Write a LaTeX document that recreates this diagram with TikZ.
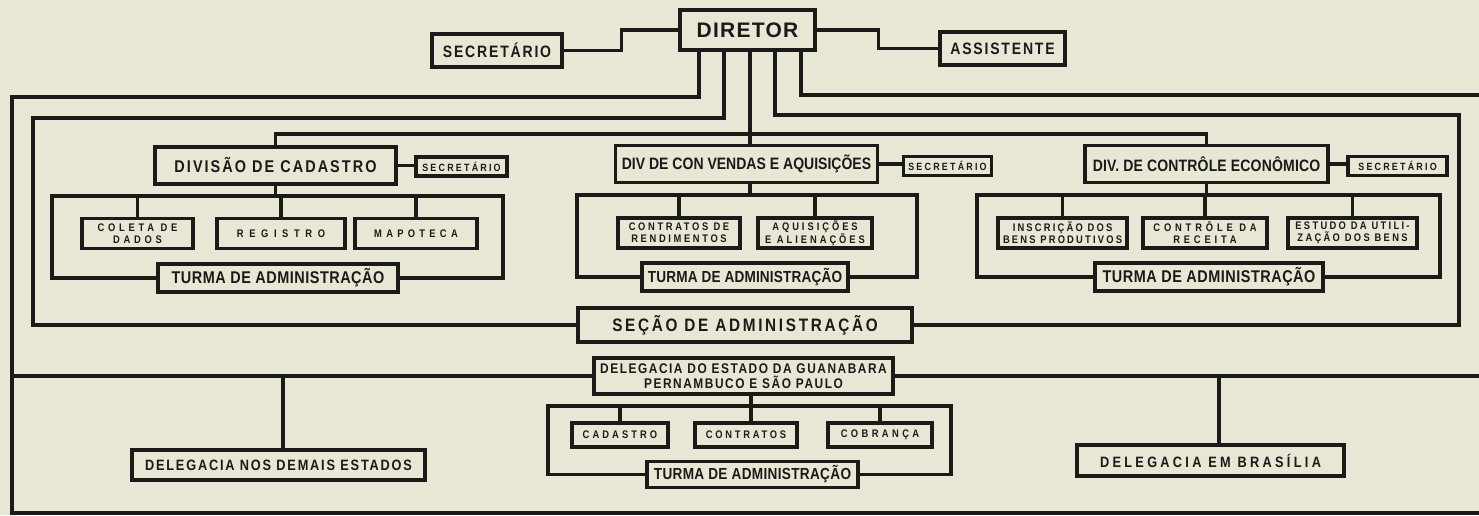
\documentclass[tikz,border=0pt]{standalone}
\usepackage{fontspec}
\setmainfont{Liberation Sans}
\newfontfamily\cf{Liberation Sans}[FakeStretch=0.85]
\definecolor{bg}{HTML}{E8E7D6}
\definecolor{ink}{HTML}{1A1A18}
\newcommand\ff[3]{\fontsize{#1}{#2}\selectfont\cf\bfseries\addfontfeature{LetterSpace=#3}}
\newcommand\fn[3]{\fontsize{#1}{#2}\selectfont\bfseries\addfontfeature{LetterSpace=#3}}
\begin{document}
\begin{tikzpicture}[x=1pt,y=-1pt,
  bx/.style={draw=ink, line width=3.2pt, fill=bg, inner sep=0pt, align=center, text=ink},
  ln/.style={draw=ink, line width=3.2pt, line join=miter},
  subbox/.style={bx, minimum height=30pt},
  turma/.style={bx, minimum height=28pt}]
\fill[bg] (0,0) rectangle (1479,515);
\useasboundingbox (0,0) rectangle (1479,515);

% top
\node[bx, minimum width=135pt, minimum height=40pt, font={\fn{21}{22}{6}}] (dir) at (747.5,30) {DIRETOR};
\node[bx, minimum width=130pt, minimum height=33pt, font={\ff{16.5}{18}{11}}] (sec) at (497,50.5) {SECRETÁRIO};
\node[bx, minimum width=125pt, minimum height=33pt, font={\ff{16.5}{18}{11}}] (ass) at (1002.5,48.5) {ASSISTENTE};

% divisions
\node[bx, minimum width=241pt, minimum height=37pt, font={\ff{17}{18}{12}}] (d1) at (275.5,165.5) {DIVISÃO DE CADASTRO};
\node[bx, minimum width=91pt, minimum height=19pt, font={\ff{10.5}{11}{21}}] (s1) at (461.5,166.5) {SECRETÁRIO};
\node[bx, minimum width=262pt, minimum height=37pt, font={\ff{16.5}{18}{0}}] (d2) at (746.5,164) {DIV DE CON VENDAS E AQUISIÇÕES};
\node[bx, minimum width=88pt, minimum height=19pt, font={\ff{10.5}{11}{21}}] (s2) at (947.5,166) {SECRETÁRIO};
\node[bx, minimum width=243pt, minimum height=37pt, font={\ff{16.5}{18}{1}}] (d3) at (1206.5,164) {DIV. DE CONTRÔLE ECONÔMICO};
\node[bx, minimum width=99pt, minimum height=19pt, font={\ff{10.5}{11}{21}}] (s3) at (1397.5,166) {SECRETÁRIO};

% sub units, division 1
\node[subbox, minimum width=111pt, font={\ff{11}{12}{34}}] (c11) at (137.5,233.5) {COLETA DE\\DADOS};
\node[subbox, minimum width=128pt, font={\ff{11}{12}{51}}] (c12) at (281,233.5) {REGISTRO};
\node[subbox, minimum width=122pt, font={\ff{11}{12}{39}}] (c13) at (416,233.5) {MAPOTECA};
\node[turma, minimum width=240pt, font={\ff{17}{18}{3}}] (t1) at (278,278) {TURMA DE ADMINISTRAÇÃO};

% division 2
\node[subbox, minimum width=122pt, font={\ff{11}{12}{24}}] (c21) at (679,233) {CONTRATOS DE\\RENDIMENTOS};
\node[subbox, minimum width=114pt, font={\ff{11}{12}{27}}] (c22) at (815,233) {AQUISIÇÕES\\E ALIENAÇÕES};
\node[turma, minimum width=206pt, font={\ff{16}{17}{1}}] (t2) at (745,277) {TURMA DE ADMINISTRAÇÃO};

% division 3
\node[subbox, minimum width=129pt, font={\ff{11}{12}{20}}] (c31) at (1062.5,233) {INSCRIÇÃO DOS\\BENS PRODUTIVOS};
\node[subbox, minimum width=124pt, font={\ff{11}{12}{35}}] (c32) at (1205,233) {CONTRÔLE DA\\RECEITA};
\node[subbox, minimum width=129pt, font={\ff{11}{12}{21}}] (c33) at (1352.5,233) {ESTUDO DA UTILI-\\ZAÇÃO DOS BENS};
\node[turma, minimum width=228pt, font={\ff{17}{18}{3}}] (t3) at (1209,277) {TURMA DE ADMINISTRAÇÃO};

% section
\node[bx, minimum width=334pt, minimum height=34pt, font={\ff{18}{19}{15}}] (secao) at (745,325) {SEÇÃO DE ADMINISTRAÇÃO};

% delegations
\node[bx, minimum width=299pt, minimum height=36pt, font={\ff{14}{15}{11}}] (deleg) at (743.5,376) {DELEGACIA DO ESTADO DA GUANABARA\\PERNAMBUCO E SÃO PAULO};
\node[bx, minimum width=293pt, minimum height=30pt, font={\ff{15}{16}{12}}] (dn) at (278.5,465) {DELEGACIA NOS DEMAIS ESTADOS};
\node[bx, minimum width=267pt, minimum height=31pt, font={\ff{15}{16}{22}}] (db) at (1210.5,460.5) {DELEGACIA EM BRASÍLIA};
\node[bx, minimum width=96pt, minimum height=24pt, font={\ff{11}{12}{28}}] (c41) at (620,435) {CADASTRO};
\node[bx, minimum width=102pt, minimum height=24pt, font={\ff{11}{12}{25}}] (c42) at (746,435) {CONTRATOS};
\node[bx, minimum width=104pt, minimum height=24pt, font={\ff{11}{12}{31}}] (c43) at (880,435) {COBRANÇA};
\node[bx, minimum width=211pt, minimum height=26pt, font={\ff{16}{17}{2}}] (t4) at (752.5,474.5) {TURMA DE ADMINISTRAÇÃO};

% coordinates
\coordinate (xo1) at (699,97);
\coordinate (xi1) at (724,118);
\coordinate (xd) at (750,134);
\coordinate (xi2) at (775,115);
\coordinate (xo2) at (801,95);
\coordinate (ol) at (12,97);
\coordinate (obl) at (12,513);
\coordinate (obr) at (1479,513);
\coordinate (otr) at (1479,95);
\coordinate (il) at (33,118);
\coordinate (ir) at (1459,115);
\coordinate (b1l) at (52,196);
\coordinate (b1r) at (503,196);
\coordinate (b2l) at (577,195);
\coordinate (b2r) at (917,195);
\coordinate (b3l) at (977,195);
\coordinate (b3r) at (1440,195);
\coordinate (b4l) at (548,406);
\coordinate (b4r) at (951,406);
\coordinate (xdl) at (751,406);
\coordinate (hl) at (12,376);
\coordinate (hr) at (1479,376);
\coordinate (xdn) at (283,376);
\coordinate (xdb) at (1219,376);

% top connectors
\draw[ln] (sec.east) -- ++(58,0) |- (dir.west);
\draw[ln] (dir.east) -- ++(62,0) |- (ass.west);
\draw[ln] (dir.south -| xo1) -- (xo1) -- (ol) -- (obl) -- (obr);
\draw[ln] (dir.south -| xo2) -- (xo2) -- (otr);
\draw[ln] (dir.south -| xi1) -- (xi1) -- (il) |- (secao.west);
\draw[ln] (dir.south -| xi2) -- (xi2) -- (ir) |- (secao.east);
\draw[ln] (dir.south -| xd) -- (d2.north -| xd);
\draw[ln] (d1.north) -- (d1.north |- xd) -- (d3.north |- xd) -- (d3.north);

% secretaries of divisions
\draw[ln] (d1.east) -- (d1.east -| s1.west);
\draw[ln] (d2.east) -- (d2.east -| s2.west);
\draw[ln] (d3.east) -- (d3.east -| s3.west);

% brackets
\draw[ln] (t1.west) -| (b1l) -- (b1r) |- (t1.east);
\draw[ln] (d1.south) -- (d1.south |- b1l);
\foreach \c in {c11,c12,c13} \draw[ln] (\c.north) -- (\c.north |- b1l);

\draw[ln] (t2.west) -| (b2l) -- (b2r) |- (t2.east);
\draw[ln] (d2.south -| xd) -- (xd |- b2l);
\foreach \c in {c21,c22} \draw[ln] (\c.north) -- (\c.north |- b2l);

\draw[ln] (t3.west) -| (b3l) -- (b3r) |- (t3.east);
\draw[ln] (d3.south) -- (d3.south |- b3l);
\foreach \c in {c31,c32,c33} \draw[ln] (\c.north) -- (\c.north |- b3l);

% delegations
\draw[ln] (hl) -- (deleg.west);
\draw[ln] (deleg.east) -- (hr);
\draw[ln] (xdn) -- (dn.north -| xdn);
\draw[ln] (xdb) -- (db.north -| xdb);
\draw[ln] (t4.west) -| (b4l) -- (b4r) |- (t4.east);
\draw[ln] (deleg.south -| xdl) -- (xdl);
\draw[ln] (c42.north -| xdl) -- (xdl);
\foreach \c in {c41,c43} \draw[ln] (\c.north) -- (\c.north |- b4l);
\end{tikzpicture}
\end{document}
